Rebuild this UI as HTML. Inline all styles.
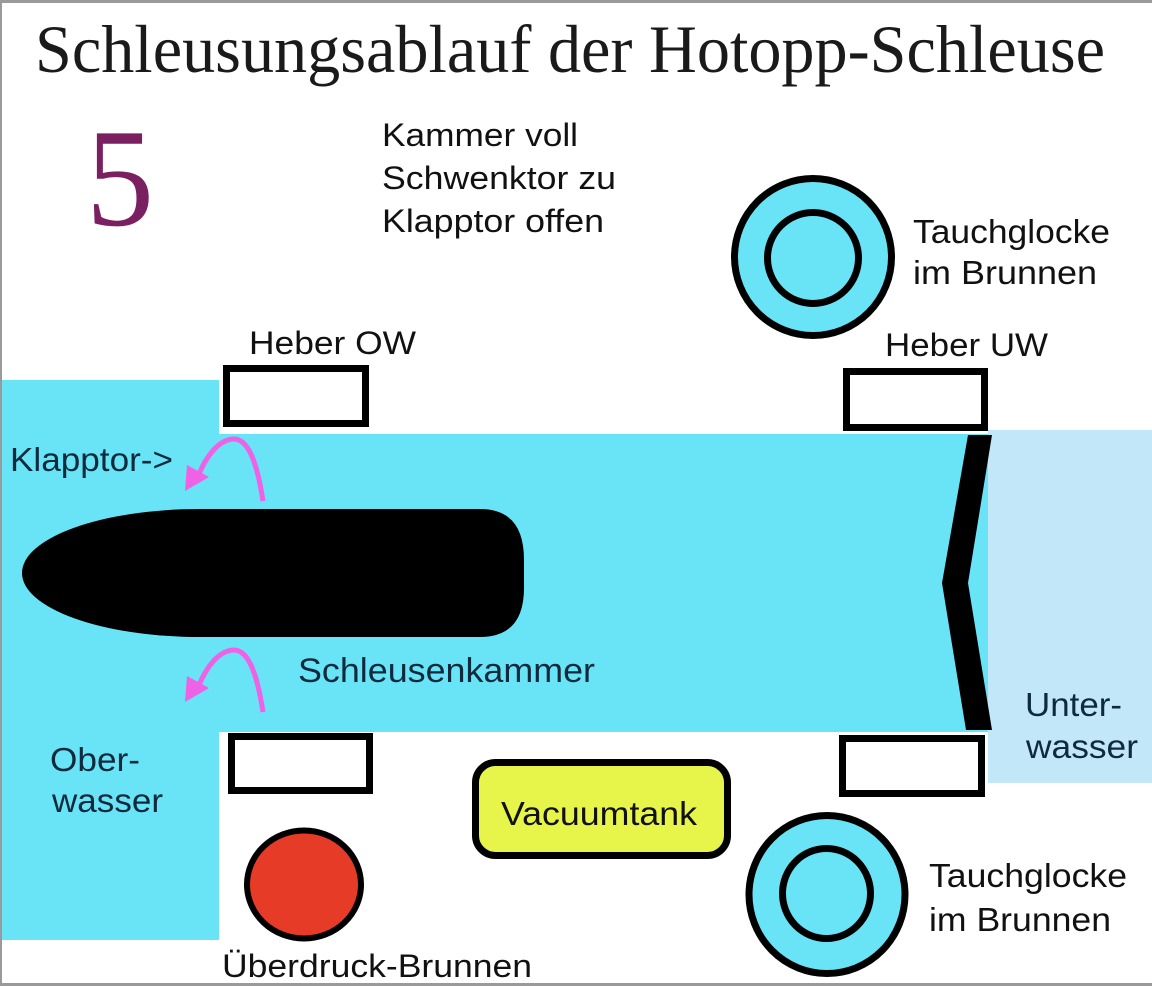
<!DOCTYPE html>
<html>
<head>
<meta charset="utf-8">
<style>
  html, body { margin: 0; padding: 0; background: #fff; }
  body { width: 1152px; height: 986px; overflow: hidden; }
  svg { display: block; }
  .s { font-family: "Liberation Sans", Arial, sans-serif; fill: #111; }
  .d { fill: #0e2a3c; }
</style>
</head>
<body>
<svg width="1152" height="986" viewBox="0 0 1152 986" xmlns="http://www.w3.org/2000/svg">
  <rect x="0" y="0" width="1152" height="986" fill="#ffffff"/>
  <!-- frame -->
  <rect x="0" y="0" width="1152" height="3" fill="#9a9a9a"/>
  <rect x="0" y="0" width="2" height="986" fill="#9a9a9a"/>
  <rect x="0" y="983" width="1152" height="3" fill="#9a9a9a"/>

  <!-- title -->
  <text x="35" y="72" font-family="'Liberation Serif', 'Times New Roman', serif" font-size="68" fill="#1a1a1a" textLength="1070" lengthAdjust="spacingAndGlyphs">Schleusungsablauf der Hotopp-Schleuse</text>

  <!-- step number -->
  <text x="86" y="225" font-family="'Liberation Serif', 'Times New Roman', serif" font-size="140" fill="#7a1f60" textLength="68" lengthAdjust="spacingAndGlyphs">5</text>

  <!-- status text -->
  <text class="s" x="382" y="146" font-size="32" textLength="196" lengthAdjust="spacingAndGlyphs">Kammer voll</text>
  <text class="s" x="382" y="189" font-size="32" textLength="234" lengthAdjust="spacingAndGlyphs">Schwenktor zu</text>
  <text class="s" x="382" y="232" font-size="32" textLength="222" lengthAdjust="spacingAndGlyphs">Klapptor offen</text>

  <!-- water areas -->
  <rect x="2" y="380" width="217" height="560" fill="#69e3f6"/>
  <rect x="219" y="434" width="769" height="298" fill="#69e3f6"/>
  <rect x="988" y="430" width="164" height="353" fill="#c1e7f8"/>

  <!-- Heber boxes -->
  <rect x="226.5" y="368.5" width="139" height="55" fill="#fff" stroke="#000" stroke-width="7"/>
  <rect x="846.5" y="371.5" width="138" height="56" fill="#fff" stroke="#000" stroke-width="7"/>
  <rect x="231.5" y="736.5" width="138" height="54" fill="#fff" stroke="#000" stroke-width="7"/>
  <rect x="842.5" y="738.5" width="139" height="55" fill="#fff" stroke="#000" stroke-width="7"/>

  <text class="s" x="249" y="354" font-size="32" textLength="167" lengthAdjust="spacingAndGlyphs">Heber OW</text>
  <text class="s" x="885" y="356" font-size="32" textLength="163" lengthAdjust="spacingAndGlyphs">Heber UW</text>

  <!-- ship hull -->
  <path d="M 22 573 A 178 64 0 0 1 200 509 L 480 509 Q 524 509 524 560 L 524 588 Q 524 637 480 637 L 200 637 A 178 64 0 0 1 22 573 Z" fill="#000"/>

  <!-- swing gate -->
  <polygon points="968,435 992,435 968,583 992,730 966,730 942,583" fill="#000"/>

  <!-- magenta arrows -->
  <g fill="none" stroke="#ef62e6" stroke-width="5" stroke-linecap="butt">
    <path d="M 263 501 C 257 462 248 438 233 439 C 219 440 207 455 199 474"/>
    <path d="M 263 712 C 257 673 248 649 233 650 C 219 651 207 666 199 685"/>
  </g>
  <polygon points="185,491 187,465 209,477" fill="#ef62e6"/>
  <polygon points="185,702 187,676 209,688" fill="#ef62e6"/>

  <text class="s d" x="10" y="471" font-size="33" textLength="163" lengthAdjust="spacingAndGlyphs">Klapptor-&gt;</text>
  <text class="s d" x="298" y="682" font-size="34" textLength="297" lengthAdjust="spacingAndGlyphs">Schleusenkammer</text>
  <text class="s d" x="50" y="771" font-size="33" textLength="90" lengthAdjust="spacingAndGlyphs">Ober-</text>
  <text class="s d" x="52" y="812" font-size="33" textLength="111" lengthAdjust="spacingAndGlyphs">wasser</text>
  <text class="s d" x="1025" y="716" font-size="33" textLength="97" lengthAdjust="spacingAndGlyphs">Unter-</text>
  <text class="s d" x="1026" y="758" font-size="33" textLength="112" lengthAdjust="spacingAndGlyphs">wasser</text>

  <!-- upper Tauchglocke -->
  <circle cx="813" cy="257" r="78.5" fill="#69e3f6" stroke="#000" stroke-width="7"/>
  <circle cx="813" cy="258" r="45.5" fill="#69e3f6" stroke="#000" stroke-width="7"/>
  <text class="s" x="913" y="243" font-size="33" textLength="197" lengthAdjust="spacingAndGlyphs">Tauchglocke</text>
  <text class="s" x="913" y="284" font-size="33" textLength="184" lengthAdjust="spacingAndGlyphs">im Brunnen</text>

  <!-- lower Tauchglocke -->
  <ellipse cx="827" cy="894.5" rx="78" ry="79" fill="#69e3f6" stroke="#000" stroke-width="7"/>
  <ellipse cx="826.5" cy="893.5" rx="44" ry="45" fill="#69e3f6" stroke="#000" stroke-width="7"/>
  <text class="s" x="929" y="887" font-size="33" textLength="198" lengthAdjust="spacingAndGlyphs">Tauchglocke</text>
  <text class="s" x="929" y="931" font-size="33" textLength="182" lengthAdjust="spacingAndGlyphs">im Brunnen</text>

  <!-- Vacuumtank -->
  <rect x="475.5" y="762.5" width="252" height="93" rx="20" ry="20" fill="#e7f449" stroke="#000" stroke-width="7"/>
  <text class="s" x="501" y="825" font-size="33" textLength="196" lengthAdjust="spacingAndGlyphs">Vacuumtank</text>

  <!-- Überdruck-Brunnen -->
  <ellipse cx="304" cy="884.5" rx="57" ry="54" fill="#e63b26" stroke="#000" stroke-width="6"/>
  <text class="s" x="222" y="977" font-size="32" textLength="310" lengthAdjust="spacingAndGlyphs">Überdruck-Brunnen</text>
</svg>
</body>
</html>
